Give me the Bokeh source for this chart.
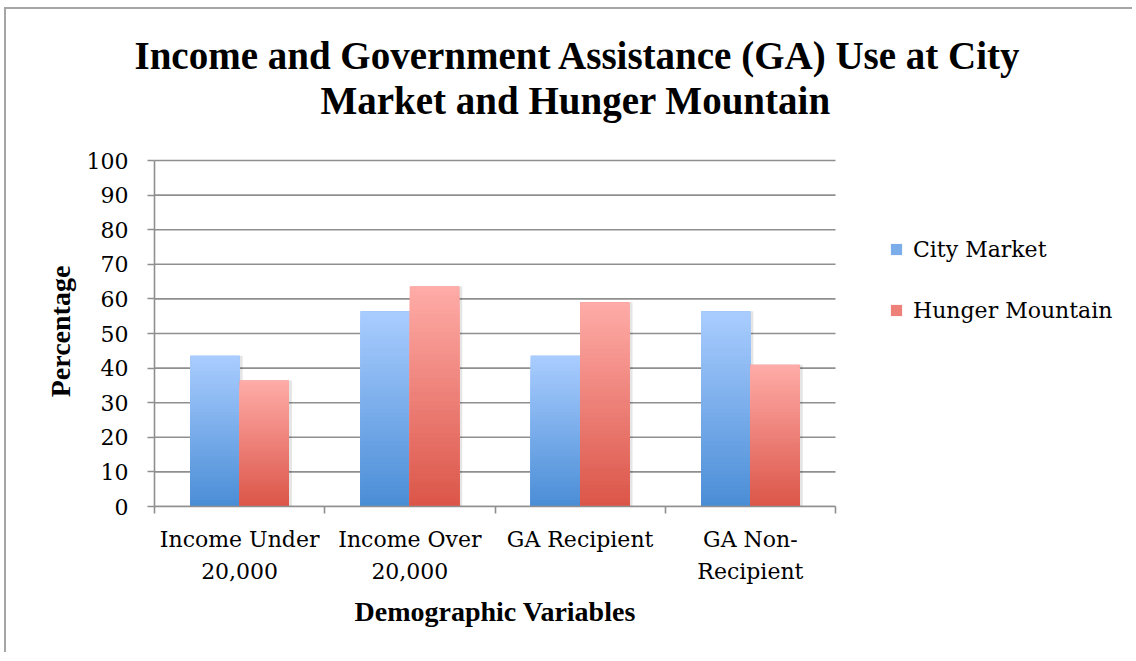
import numpy as np
from bokeh.plotting import figure
from bokeh.models import ColumnDataSource, FixedTicker, Range1d, Legend, LegendItem, Title
from bokeh.embed import file_html
from bokeh.resources import INLINE

# ---------------- data ----------------
categories = ["Income Under\n20,000", "Income Over\n20,000", "GA Recipient", "GA Non-\nRecipient"]
series_names = ["City Market", "Hunger Mountain"]
city_market = [43.6, 56.4, 43.6, 56.4]
hunger_mountain = [36.4, 63.6, 59.0, 41.0]
y_ticks = [0, 10, 20, 30, 40, 50, 60, 70, 80, 90, 100]
title_lines = ["Income and Government Assistance (GA) Use at City", "Market and Hunger Mountain"]
x_title = "Demographic Variables"
y_title = "Percentage"

# ---------------- layout constants ----------------
W, H = 1128, 645
OX, OY = 6, 9                      # page offset of the figure
F_L, F_R, F_T, F_B = 154, 835, 160, 506   # plot area (axes box) in page px
TOP_PAD = 4                        # frame reaches a few px above 100 so the top gridline is whole
N_CAT, Y_MAX = len(categories), 100
# the drawing frame reaches the right edge of the canvas so that the legend is not clipped;
# the category axis itself covers [0, N_CAT] -> F_L..F_R
X_END = N_CAT * ((OX + W) - F_L) / (F_R - F_L)
Y_END = Y_MAX * (F_B - (F_T - TOP_PAD)) / (F_B - F_T)

SERIF = "DejaVu Serif"
SERIF_B = "Liberation Serif"
GRID = "#8f8f8f"

p = figure(width=W, height=H, output_backend="svg", toolbar_location=None,
           x_range=Range1d(0, X_END), y_range=Range1d(0, Y_END),
           min_border_left=F_L - OX, min_border_right=0,
           min_border_top=F_T - TOP_PAD - OY, min_border_bottom=H - (F_B - OY))
p.styles = {"position": "relative", "left": "%dpx" % OX, "top": "%dpx" % OY,
            "box-shadow": "-2px -2px 0px 0px #a6a6a6"}
p.outline_line_color = None
p.background_fill_color = "white"
p.border_fill_color = "white"

# ---------------- title (two lines) ----------------
p.title.text = title_lines[0]
p.title.align = "left"
p.title.offset = -20
p.title.text_font = SERIF_B
p.title.text_font_style = "bold"
p.title.text_font_size = "39px"
p.title.text_color = "black"
p.title.standoff = -70
p.add_layout(Title(text=title_lines[1], align="left", offset=166, text_font=SERIF_B,
                   text_font_style="bold", text_font_size="39px", text_color="black",
                   standoff=70), "above")

# ---------------- grid & axes ----------------
p.xgrid.visible = False
p.ygrid.visible = False
p.segment(x0=[0] * len(y_ticks), x1=[N_CAT] * len(y_ticks), y0=y_ticks, y1=y_ticks,
          line_color=GRID, line_width=1.6)

yax = p.yaxis[0]
yax.bounds = (0, Y_MAX)
yax.ticker = FixedTicker(ticks=y_ticks)
yax.axis_line_color = GRID
yax.axis_line_width = 1.6
yax.major_tick_line_color = GRID
yax.major_tick_line_width = 1.6
yax.major_tick_in = 0
yax.major_tick_out = 7
yax.minor_tick_line_color = None
yax.major_label_text_font = SERIF
yax.major_label_text_font_size = "22px"
yax.major_label_text_color = "black"
yax.major_label_standoff = 19
yax.axis_label = y_title
yax.axis_label_text_font = SERIF_B
yax.axis_label_text_font_style = "bold"
yax.axis_label_text_font_size = "28px"
yax.axis_label_text_color = "black"
yax.axis_label_standoff = 8

centers = [i + 0.5 for i in range(N_CAT)]
xax = p.xaxis[0]
xax.bounds = (0, N_CAT)
xax.ticker = FixedTicker(ticks=centers, minor_ticks=list(range(N_CAT + 1)))
xax.major_label_overrides = {c: lab for c, lab in zip(centers, categories)}
xax.axis_line_color = GRID
xax.axis_line_width = 1.6
xax.major_tick_line_color = None
xax.minor_tick_line_color = GRID
xax.minor_tick_line_width = 1.6
xax.minor_tick_in = 0
xax.minor_tick_out = 7
xax.major_label_text_font = SERIF
xax.major_label_text_font_size = "22px"
xax.major_label_text_color = "black"
xax.major_label_text_line_height = 1.3
xax.major_label_standoff = 13

# x-axis title, centred under the category axis (not under the widened frame)
p.add_layout(Title(text=x_title, align="left", offset=200, vertical_align="top",
                   text_font=SERIF_B, text_font_style="bold", text_font_size="28px",
                   text_color="black", standoff=16), "below")

# ---------------- bars ----------------
BAR_W = 0.29
N_GRAD = 48

def hex2rgb(h):
    h = h.lstrip("#")
    return tuple(int(h[i:i + 2], 16) for i in (0, 2, 4))

def lerp(c1, c2, t):
    a, b = hex2rgb(c1), hex2rgb(c2)
    return "#%02x%02x%02x" % tuple(int(round(a[i] + (b[i] - a[i]) * t)) for i in range(3))

styles = [
    dict(offset=-BAR_W / 2, top="#aacdff", bottom="#4a8dd6"),
    dict(offset=BAR_W / 2, top="#ffaca8", bottom="#db5548"),
]

base_renderers = []
for name, vals, st in zip(series_names, [city_market, hunger_mountain], styles):
    xs = [c + st["offset"] for c in centers]
    src = ColumnDataSource(dict(x=xs, top=vals, cat=categories))
    # soft shadow
    p.vbar(x=[x + 3.0 / (F_R - F_L) * N_CAT for x in xs], top=vals, width=BAR_W,
           fill_color="#000000", fill_alpha=0.10, line_color=None)
    r = p.vbar(x="x", top="top", width=BAR_W, source=src,
               fill_color=lerp(st["bottom"], st["top"], 0.5), line_color=None)
    base_renderers.append(r)
    # vertical gradient overlay (nested layers, each from 0 to a fraction of the bar)
    gx, gt, gc = [], [], []
    for k in range(N_GRAD):
        frac = (N_GRAD - k) / N_GRAD
        col = lerp(st["bottom"], st["top"], frac - 0.5 / N_GRAD)
        for x, v in zip(xs, vals):
            gx.append(x)
            gt.append(v * frac)
            gc.append(col)
    p.vbar(x="x", top="top", width=BAR_W, fill_color="color", line_color=None,
           source=ColumnDataSource(dict(x=gx, top=gt, color=gc)))

# ---------------- legend ----------------
legend = Legend(items=[LegendItem(label=n, renderers=[r]) for n, r in zip(series_names, base_renderers)],
                location=(889 - F_L, F_B - 323), orientation="vertical",
                glyph_width=14, glyph_height=14, label_height=26, spacing=35,
                label_standoff=10, padding=0, margin=0,
                label_text_font=SERIF, label_text_font_size="22px", label_text_color="black",
                border_line_color=None, background_fill_alpha=0)
p.add_layout(legend)

open("out.html", "w").write(file_html(p, INLINE))
